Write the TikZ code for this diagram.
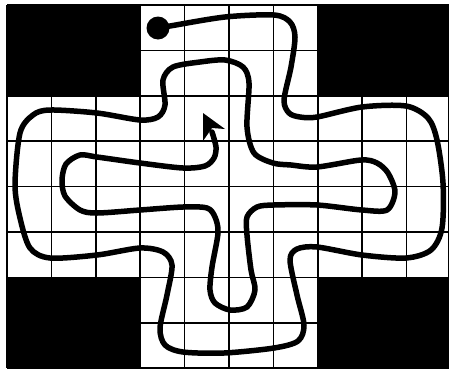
\documentclass[tikz,border=0pt]{standalone}
\begin{document}
\begin{tikzpicture}[x=1pt,y=-1pt,
  gridline/.style={line width=1.5pt,black},
  block/.style={fill=black},
  path line/.style={line width=5.5pt,line cap=round,line join=round},
]
\useasboundingbox (0,0) rectangle (449,370);
\fill[white] (0,0) rectangle (449,370);
% grid
\foreach \i in {0,...,9} {
  \draw[gridline] ({7+44.4*\i},5) -- ({7+44.4*\i},368.2);
}
\draw[gridline] (449,5) -- (449,368.2);
\foreach \j in {0,...,8} {
  \draw[gridline] (7,{5+45.4*\j}) -- (449,{5+45.4*\j});
}
% black corners
\fill[block] (7,5) rectangle (140.2,95.8);
\fill[block] (317.8,5) rectangle (449,95.8);
\fill[block] (7,277.4) rectangle (140.2,368.2);
\fill[block] (317.8,277.4) rectangle (449,368.2);
% start dot
\node[circle,fill=black,minimum size=23pt,inner sep=0pt] (start) at (158,28) {};
% the path
\draw[path line] plot[smooth,tension=0.5] coordinates {
(158,28) (170,26) (225,17) (274,15) (290,22) (295,37) (291,67) (284,100) (289,113) (300,117) (317,117) (362,107) (406,106) (428,118) (437,140) (443,183) (442,228) (431,250) (406,258) (362,255) (317,247) (297,249) (290,260) (297,295) (304,325) (298,341) (274,348) (224,353) (183,352) (165,345) (160,328) (167,295) (172,265) (163,252) (140,248) (97,255) (50,258) (30,248) (20,218) (15,185) (20,133) (33,115) (50,110) (97,113) (140,120) (158,117) (165,105) (163,80) (173,67) (200,62) (225,60) (243,67) (249,83) (247,127) (254,153) (273,163) (291,165) (317,167) (361,160) (377,163) (388,173) (395,192) (387,210) (362,210) (317,205) (274,205) (257,207) (247,217) (247,235) (251,270) (255,290) (247,307) (230,310) (215,303) (210,290) (212,267) (218,233) (215,217) (207,208) (183,207) (140,210) (97,213) (80,210) (65,196) (62,180) (66,164) (80,155) (97,157) (140,163) (183,168) (205,166) (214,158) (216,147) (212,132)
};
% arrow head
\coordinate (tip) at (203,113);
\fill (tip) -- (225,129) -- (212,128) -- (203,141) -- cycle;
\end{tikzpicture}
\end{document}
